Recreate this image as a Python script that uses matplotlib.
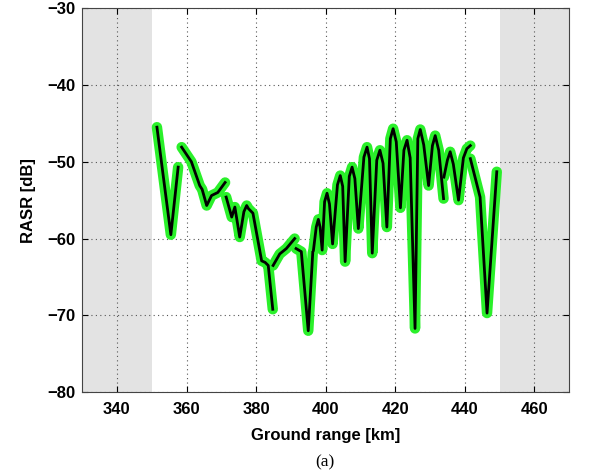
import numpy as np
import matplotlib.pyplot as plt

# RASR curve, drawn as separate pieces (ground range km, dB)
seg1_x = [351.5, 355.5, 357.6]
seg1_y = [-45.5, -59.5, -50.7]

seg2_x = [358.6, 361.4, 363.8, 364.5, 365.8, 367.2, 369.0, 371.1]
seg2_y = [-48.1, -50.0, -53.1, -53.6, -55.7, -54.4, -54.0, -52.7]

seg3_x = [371.4, 373.0, 373.9, 375.3, 376.5, 377.3, 377.8, 379.1, 381.6, 382.6, 383.5, 384.8]
seg3_y = [-54.6, -57.2, -55.9, -59.8, -56.5, -55.7, -56.1, -56.7, -62.9, -63.1, -63.5, -69.2]

seg4_x = [384.9, 386.8, 388.7, 391.1]
seg4_y = [-63.5, -62.0, -61.3, -60.0]

seg5_x = [391.5, 393.0, 395.0, 396.3]
seg5_y = [-61.3, -61.7, -72.0, -61.8]

seg6_x = [396.5, 397.3, 397.9, 398.4, 399.0, 399.7, 400.4, 401.1, 402.0, 403.4, 404.2,
          404.9, 405.6, 406.8, 407.6, 408.4, 409.4, 411.0, 411.9, 412.6, 413.4, 414.7,
          415.6, 416.5, 417.6, 418.6, 419.4, 420.3, 421.5, 422.5, 423.4, 424.3, 425.7,
          426.5, 427.2, 428.2, 429.6, 430.7, 431.5, 432.5, 433.9]
seg6_y = [-61.5, -58.5, -57.5, -58.5, -61.5, -55.2, -54.1, -55.5, -60.7, -53.0, -51.8,
          -53.2, -63.0, -51.9, -50.7, -52.2, -58.7, -49.4, -48.1, -49.6, -61.9, -49.8,
          -48.5, -50.2, -58.5, -47.0, -45.7, -47.4, -56.0, -48.5, -47.2, -49.5, -71.7,
          -47.0, -45.8, -47.8, -53.1, -47.9, -46.6, -48.5, -54.8]

seg7_x = [434.0, 435.0, 435.8, 436.7, 438.2, 439.6, 440.6, 441.6]
seg7_y = [-52.0, -49.8, -48.7, -50.3, -55.0, -49.5, -48.3, -47.9]

seg8_x = [441.6, 444.4, 446.4, 449.2]
seg8_y = [-49.6, -54.6, -69.7, -51.3]

segments = [(seg1_x, seg1_y), (seg2_x, seg2_y), (seg3_x, seg3_y), (seg4_x, seg4_y),
            (seg5_x, seg5_y), (seg6_x, seg6_y), (seg7_x, seg7_y), (seg8_x, seg8_y)]

blind_left = (330, 350)
blind_right = (450, 470)

fig = plt.figure(figsize=(5.91, 4.76), dpi=100)
ax = fig.add_axes([0.139, 0.176, 0.824, 0.807])

ax.axvspan(*blind_left, color='#e3e3e3', lw=0, zorder=0)
ax.axvspan(*blind_right, color='#e3e3e3', lw=0, zorder=0)

for sx, sy in segments:
    ax.plot(sx, sy, color='#2af02a', lw=7.5, solid_capstyle='round',
            solid_joinstyle='round', zorder=3)
for sx, sy in segments:
    ax.plot(sx, sy, color='black', lw=2.0, solid_joinstyle='round', zorder=4)

ax.set_xlim(330, 470)
ax.set_ylim(-80, -30)
ax.set_xticks(np.arange(340, 461, 20))
ax.set_yticks(np.arange(-80, -29, 10))
ax.grid(True, linestyle=(0, (1, 3)), color='#555555', lw=0.8)
ax.set_axisbelow(False)
for s in ax.spines.values():
    s.set_color('#444444')
    s.set_zorder(5)
ax.tick_params(direction='in', top=True, right=True, length=4, width=0.8)

font = {'family': 'Liberation Sans', 'weight': 'bold', 'size': 12}
ax.set_xticklabels([str(v) for v in ax.get_xticks().astype(int)], fontdict=font)
ax.set_yticklabels(['\u2212' + str(-v) for v in ax.get_yticks().astype(int)], fontdict=font)
ax.tick_params(axis='x', pad=7)
ax.tick_params(axis='y', pad=5)
ax.set_xlabel('Ground range [km]', fontdict=font, labelpad=8)
ax.set_ylabel('RASR [dB]', fontdict=font, labelpad=8)

fig.text(0.55, 0.028, '(a)', ha='center', va='center', family='Liberation Serif', size=12.5)

fig.savefig('out.png', dpi=100)
